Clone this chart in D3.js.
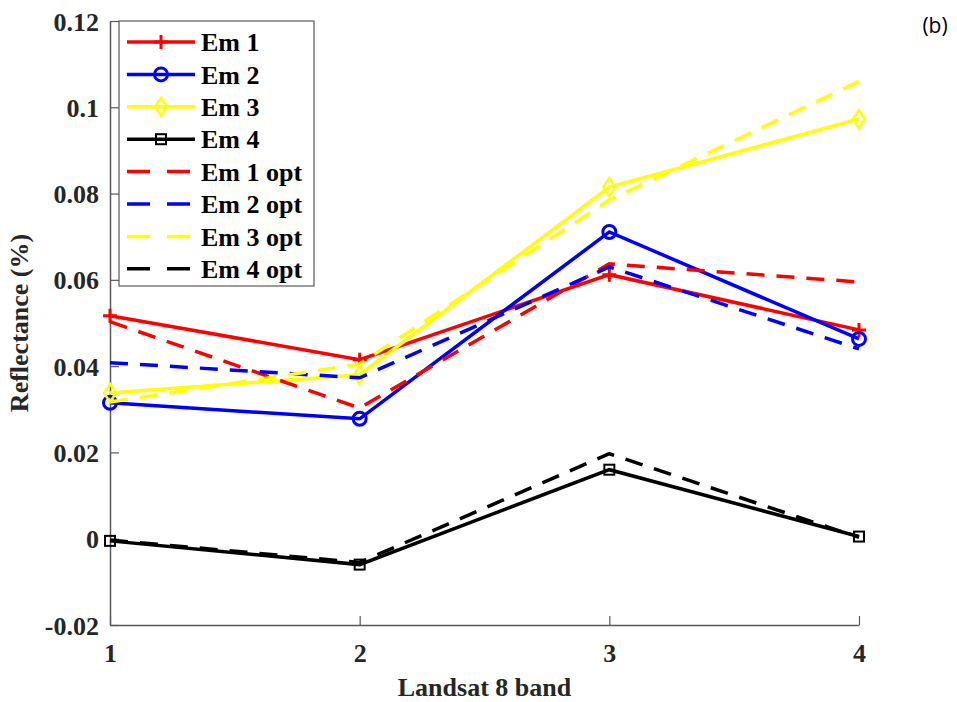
<!DOCTYPE html>
<html>
<head>
<meta charset="utf-8">
<script src="https://cdn.jsdelivr.net/npm/d3@7"></script>
<style>
  body { margin: 0; background: #fff; }
  svg text { font-family: "Liberation Serif", "Times New Roman", serif; font-weight: bold; }
</style>
</head>
<body>
<div id="chart"></div>
<script>
var width = 957, height = 702;

var bands = [1, 2, 3, 4];
var yTicks = [-0.02, 0, 0.02, 0.04, 0.06, 0.08, 0.1, 0.12];
var yTickLabels = ["-0.02", "0", "0.02", "0.04", "0.06", "0.08", "0.1", "0.12"];

var em1    = [0.0517, 0.0415, 0.0612, 0.0484];
var em2    = [0.0315, 0.0278, 0.0711, 0.0463];
var em3    = [0.0338, 0.0380, 0.0815, 0.0973];
var em4    = [-0.0005, -0.0060, 0.0160, 0.0005];
var em1opt = [0.0503, 0.0303, 0.0637, 0.0595];
var em2opt = [0.0408, 0.0373, 0.0630, 0.0440];
var em3opt = [0.0317, 0.0405, 0.0785, 0.1060];
var em4opt = [-0.0003, -0.0055, 0.0197, 0.0003];

var names   = ["Em 1", "Em 2", "Em 3", "Em 4", "Em 1 opt", "Em 2 opt", "Em 3 opt", "Em 4 opt"];
var colors  = ["#ff0000", "#0000ff", "#ffff00", "#000000", "#ff0000", "#0000ff", "#ffff00", "#000000"];
var markers = ["plus", "circle", "diamond", "square", null, null, null, null];
var dashed  = [false, false, false, false, true, true, true, true];

var series = [em1, em2, em3, em4, em1opt, em2opt, em3opt, em4opt].map(function(vals, i) {
    return { name: names[i], color: colors[i], marker: markers[i], dashed: dashed[i],
             values: vals.map(function(v, j) { return { band: bands[j], value: v }; }) };
});

var x = d3.scaleLinear().domain([1, 4]).range([110, 859]);
var y = d3.scaleLinear().domain([-0.02, 0.12]).range([625, 21]);

var svg = d3.select("#chart").append("svg")
    .attr("width", width)
    .attr("height", height);

var axisColor = "#595959";

// axes
var xAxis = d3.axisBottom(x).tickValues(bands).tickFormat(d3.format("d")).tickSizeInner(-9).tickSizeOuter(0);
var yAxis = d3.axisLeft(y).tickValues(yTicks).tickFormat(function(d, i) { return yTickLabels[i]; })
    .tickSizeInner(-9).tickSizeOuter(0);

var gx = svg.append("g")
    .attr("class", "x axis")
    .attr("transform", "translate(0," + y(-0.02) + ")")
    .call(xAxis);
gx.selectAll("text").attr("dy", "0").attr("y", 37).style("font-size", "26px").attr("fill", "#262626");

var gy = svg.append("g")
    .attr("class", "y axis")
    .attr("transform", "translate(" + x(1) + ",0)")
    .call(yAxis);
gy.selectAll("text").attr("x", -11).attr("dy", "0.35em").style("font-size", "26px").attr("fill", "#262626");

svg.selectAll(".domain").attr("stroke", axisColor).attr("stroke-width", 1.5);
svg.selectAll(".tick line").attr("stroke", axisColor).attr("stroke-width", 1.2);

svg.append("text")
    .attr("x", (x(1) + x(4)) / 2)
    .attr("y", 696)
    .attr("text-anchor", "middle")
    .attr("fill", "#262626")
    .style("font-size", "26px")
    .text("Landsat 8 band");

svg.append("text")
    .attr("transform", "translate(28," + y(0.05) + ") rotate(-90)")
    .attr("text-anchor", "middle")
    .attr("fill", "#262626")
    .style("font-size", "26px")
    .text("Reflectance (%)");

svg.append("text")
    .attr("x", 935)
    .attr("y", 33)
    .attr("text-anchor", "middle")
    .style("font-family", "'Open Sans', 'Liberation Sans', sans-serif")
    .style("font-weight", "normal")
    .style("font-size", "21px")
    .attr("fill", "#000")
    .text("(b)");

// lines
var line = d3.line()
    .x(function(d) { return x(d.band); })
    .y(function(d) { return y(d.value); });

function drawMarker(g, type, cx, cy, color) {
    if (type === "plus") {
        g.append("path").attr("d", "M" + (cx - 7) + "," + cy + "H" + (cx + 7) + "M" + cx + "," + (cy - 7) + "V" + (cy + 7))
            .attr("stroke", color).attr("stroke-width", 3).attr("fill", "none");
    } else if (type === "circle") {
        g.append("circle").attr("cx", cx).attr("cy", cy).attr("r", 6.5)
            .attr("stroke", color).attr("stroke-width", 3).attr("fill", "none");
    } else if (type === "diamond") {
        g.append("path").attr("d", "M" + cx + "," + (cy - 9) + "L" + (cx + 6) + "," + cy + "L" + cx + "," + (cy + 9) + "L" + (cx - 6) + "," + cy + "Z")
            .attr("stroke", color).attr("stroke-width", 2.5).attr("fill", "none");
    } else if (type === "square") {
        g.append("rect").attr("x", cx - 5).attr("y", cy - 5).attr("width", 10).attr("height", 10)
            .attr("stroke", color).attr("stroke-width", 2).attr("fill", "none");
    }
}

var plot = svg.append("g").attr("class", "plot");

series.forEach(function(s) {
    var g = plot.append("g");
    g.append("path")
        .datum(s.values)
        .attr("d", line)
        .attr("fill", "none")
        .attr("stroke", s.color)
        .attr("stroke-width", 3.5)
        .attr("stroke-dasharray", s.dashed ? "18,12" : null);
    if (s.marker) {
        s.values.forEach(function(d) {
            drawMarker(g, s.marker, x(d.band), y(d.value), s.color);
        });
    }
});

// legend
var legend = svg.append("g").attr("class", "legend");
legend.append("rect")
    .attr("x", 119).attr("y", 21).attr("width", 195).attr("height", 265)
    .attr("fill", "#fff").attr("stroke", axisColor).attr("stroke-width", 1.2);

series.forEach(function(s, i) {
    var ly = 42 + i * 32.4;
    var row = legend.append("g");
    row.append("line")
        .attr("x1", 127).attr("x2", 195).attr("y1", ly).attr("y2", ly)
        .attr("stroke", s.color).attr("stroke-width", 3.5)
        .attr("stroke-dasharray", s.dashed ? "23,17" : null);
    if (s.marker) drawMarker(row, s.marker, 161, ly, s.color);
    row.append("text")
        .attr("x", 201).attr("y", ly)
        .attr("dy", "0.35em")
        .style("font-size", "26px")
        .attr("fill", "#000")
        .text(s.name);
});
</script>
</body>
</html>
